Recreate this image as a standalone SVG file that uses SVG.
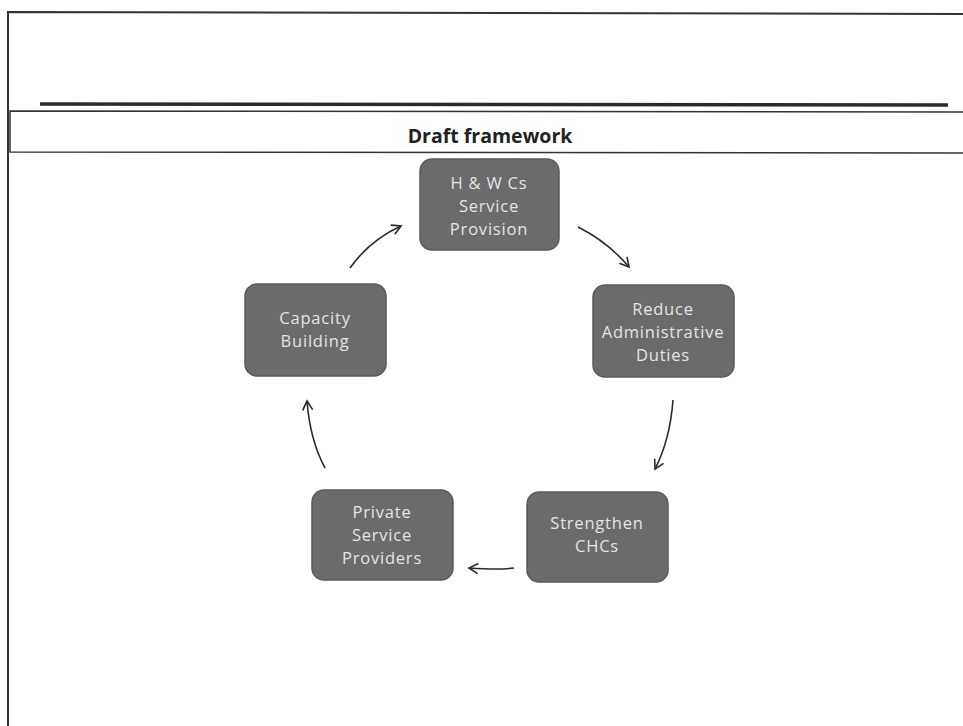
<svg xmlns="http://www.w3.org/2000/svg" width="963" height="726" viewBox="0 0 963 726">
<style>
.node rect{fill:#6b6b6b;stroke:#5a5a5a;stroke-width:1.5}
.node text{fill:#e4e4e4;font-family:"Open Sans","Liberation Sans",sans-serif;font-size:16.5px;letter-spacing:0.8px;text-anchor:middle}
.conn path{fill:none;stroke:#2a2a2a;stroke-width:1.6;marker-end:url(#ah)}
.frame{stroke:#333;fill:none}
</style>
<defs>
<marker id="ah" viewBox="0 0 12 12" refX="10" refY="6" markerWidth="12" markerHeight="12" markerUnits="userSpaceOnUse" orient="auto">
<path d="M1,1 L10,6 L1,11" fill="none" stroke="#2a2a2a" stroke-width="1.6"/>
</marker>
</defs>
<rect width="963" height="726" fill="#fff"/>
<g id="frame">
<path class="frame" d="M963,14 L8,12 L8,726" stroke-width="2"/>
<line x1="40" y1="104" x2="948" y2="105" stroke="#2b2b2b" stroke-width="3.5"/>
<path class="frame" d="M963,112 L10,111 L10,152 L963,153" stroke-width="1.5"/>
<text x="490" y="143" font-family="Open Sans,Liberation Sans,sans-serif" font-weight="bold" font-size="19.5" text-anchor="middle" fill="#222">Draft framework</text>
</g>
<g id="n-top" class="node"><rect x="420" y="159" width="139" height="91" rx="12"/>
<text x="489" y="189">H &amp; W Cs</text><text x="489" y="212">Service</text><text x="489" y="235">Provision</text></g>
<g id="n-reduce" class="node"><rect x="593" y="285" width="141" height="92" rx="12"/>
<text x="663" y="315">Reduce</text><text x="663" y="338">Administrative</text><text x="663" y="361">Duties</text></g>
<g id="n-chc" class="node"><rect x="527" y="492" width="141" height="90" rx="12"/>
<text x="597" y="529">Strengthen</text><text x="597" y="552">CHCs</text></g>
<g id="n-private" class="node"><rect x="312" y="490" width="141" height="90" rx="12"/>
<text x="382" y="518">Private</text><text x="382" y="541">Service</text><text x="382" y="564">Providers</text></g>
<g id="n-capacity" class="node"><rect x="245" y="284" width="141" height="92" rx="12"/>
<text x="315" y="324">Capacity</text><text x="315" y="347">Building</text></g>
<g id="connectors" class="conn">
<path d="M350,268 Q370,240 401,226"/>
<path d="M578,227 Q608,242 629,267"/>
<path d="M673,400 Q670,440 655,469"/>
<path d="M514,568 Q500,570 469,568"/>
<path d="M325,468 Q310,440 307,401"/>
</g>
</svg>
